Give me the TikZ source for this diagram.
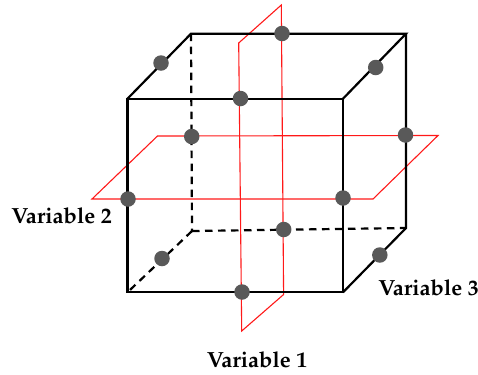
\documentclass[tikz,border=0pt]{standalone}
\usepackage[T1]{fontenc}
\usepackage{mathpazo}
\tikzset{
  edge/.style={black,line width=2.2bp,line join=miter},
  hidden/.style={black,line width=2.2bp,dash pattern=on 7.5bp off 5.5bp},
  plane/.style={red!90!white,line width=1.1bp,line join=miter},
  pt/.style={circle,fill=black!65,inner sep=0pt,minimum size=15.5bp},
  lab/.style={font=\fontsize{22}{24}\selectfont\bfseries,inner sep=0pt}
}
\begin{document}
\begin{tikzpicture}[x=1bp,y=-1bp]
\useasboundingbox (0,0) rectangle (478,374);
\coordinate (A) at (127.5,98.7);
\coordinate (B) at (343,98.7);
\coordinate (C) at (343,292.3);
\coordinate (D) at (127.5,292.3);
\coordinate (E) at (191,33.7);
\coordinate (F) at (406,33.7);
\coordinate (G) at (406,228);
\coordinate (H) at (192,231);
% planes
\coordinate (p1) at (92,199);
\coordinate (p2) at (157.5,136);
\coordinate (p3) at (438,135.5);
\coordinate (p4) at (373,199);
\coordinate (q1) at (238.7,43);
\coordinate (q2) at (281.3,5);
\coordinate (q3) at (283.6,294.5);
\coordinate (q4) at (241.7,331);
\draw[plane] (p1) -- (p2) -- (p3) -- (p4) -- cycle;
\draw[plane] (q1) -- (q2) -- (q3) -- (q4) -- cycle;
% cube
\draw[edge] (A) -- (B) -- (C) -- (D) -- cycle;
\draw[edge] (A) -- (E) -- (F) -- (B);
\draw[edge] (F) -- (G) -- (C);
\draw[hidden] (E) -- (H);
\draw[hidden] (H) -- (G);
\draw[hidden] (H) -- (D);
% dots
\node[pt] (d1) at (161,63) {};
\node[pt] (d2) at (282,33.5) {};
\node[pt] (d3) at (375.7,67.5) {};
\node[pt] (d4) at (240.5,98.5) {};
\node[pt] (d5) at (191.7,136.5) {};
\node[pt] (d6) at (405.5,135) {};
\node[pt] (d7) at (128,199) {};
\node[pt] (d8) at (343,198) {};
\node[pt] (d9) at (283.7,229.5) {};
\node[pt] (d10) at (162,258.5) {};
\node[pt] (d11) at (242,292) {};
\node[pt] (d12) at (379.8,255) {};
% labels
\node[lab] (v2) at (61.5,216) {Variable 2};
\node[lab] (v3) at (428.5,288) {Variable 3};
\node[lab] (v1) at (257,360) {Variable 1};
\end{tikzpicture}
\end{document}
